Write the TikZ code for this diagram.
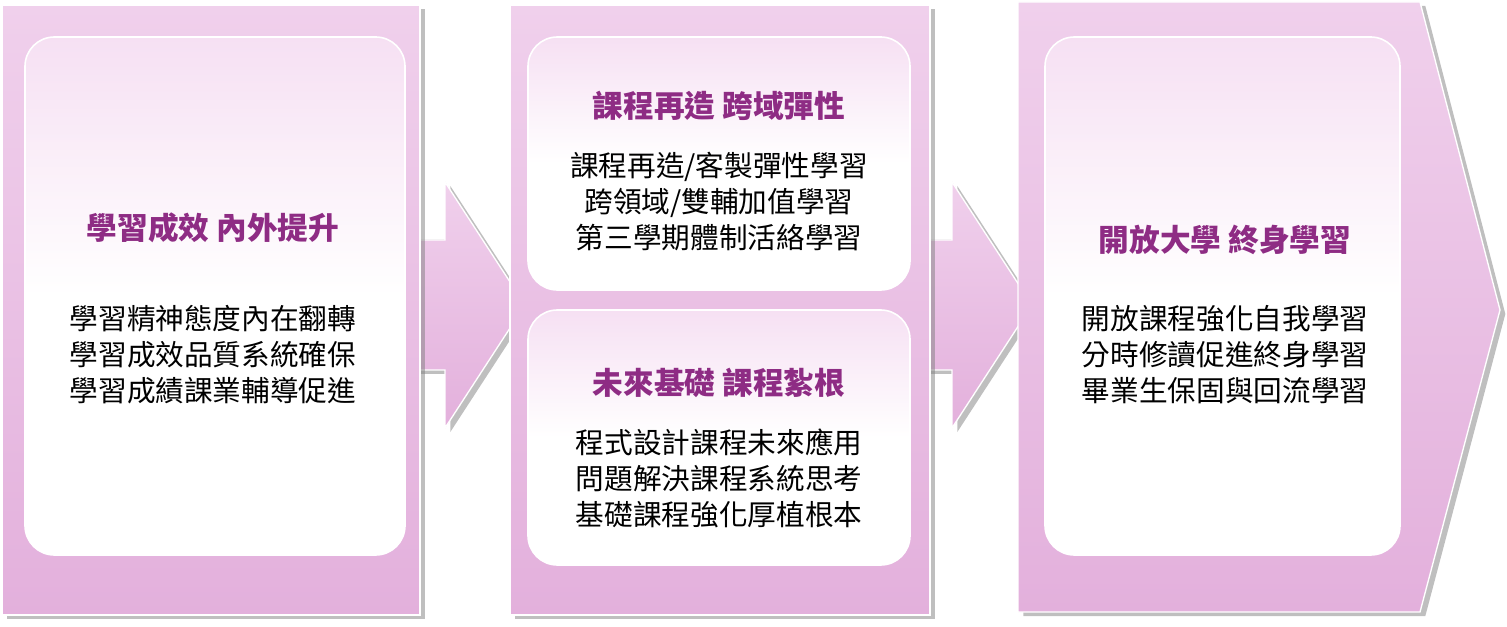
\documentclass[tikz,border=0pt]{standalone}
\usepackage{fontspec}
\newfontfamily\cjk{Noto Sans CJK TC}
\usetikzlibrary{shadows}
\definecolor{pnl}{HTML}{E3B0DC}
\definecolor{pnll}{HTML}{F0D0EC}
\definecolor{ttl}{HTML}{8E2C84}
\definecolor{inb}{HTML}{F6E0F3}
\begin{document}
\begin{tikzpicture}[x=0.75pt,y=-0.75pt,
  panel/.style={top color=pnll,bottom color=pnl,draw=white,line width=1pt,drop shadow={shadow xshift=4pt,shadow yshift=-3pt,opacity=0.5}},
  inner/.style={top color=inb,bottom color=white,middle color=white,draw=white,line width=1.2pt,rounded corners=22pt},
  ttlt/.style={font=\cjk\bfseries\fontsize{23}{28}\selectfont,text=ttl},
  bodyt/.style={font=\cjk\fontsize{21.5}{27}\selectfont,align=center}]
\useasboundingbox (0,0) rectangle (1507,627);
% arrows
\fill[panel] (410,240) -- (445,240) -- (445,182) -- (525,305) -- (445,428) -- (445,370) -- (410,370) -- cycle;
\fill[panel] (920,240) -- (952,240) -- (952,182) -- (1032,305) -- (952,428) -- (952,370) -- (920,370) -- cycle;
% panels
\path[panel] (2,5) rectangle (420,615);
\path[panel] (510,5) rectangle (930,615);
\path[panel] (1018,2) -- (1420,2) -- (1500,310) -- (1420,612) -- (1018,612) -- cycle;
% inner boxes
\path[inner] (25,37) rectangle (405,555);
\path[inner] (528,37) rectangle (910,290);
\path[inner] (528,310) rectangle (910,565);
\path[inner] (1045,37) rectangle (1400,555);
% texts
\node[ttlt] (t1) at (213,228) {學習成效 內外提升};
\node[bodyt] (b1) at (213,355) {學習精神態度內在翻轉\\學習成效品質系統確保\\學習成績課業輔導促進};
\node[ttlt] (t2) at (719,106) {課程再造 跨域彈性};
\node[bodyt] (b2) at (719,202) {課程再造/客製彈性學習\\跨領域/雙輔加值學習\\第三學期體制活絡學習};
\node[ttlt] (t3) at (719,383) {未來基礎 課程紮根};
\node[bodyt] (b3) at (719,478) {程式設計課程未來應用\\問題解決課程系統思考\\基礎課程強化厚植根本};
\node[ttlt] (t4) at (1225,240) {開放大學 終身學習};
\node[bodyt] (b4) at (1225,355) {開放課程強化自我學習\\分時修讀促進終身學習\\畢業生保固與回流學習};
\end{tikzpicture}
\end{document}
